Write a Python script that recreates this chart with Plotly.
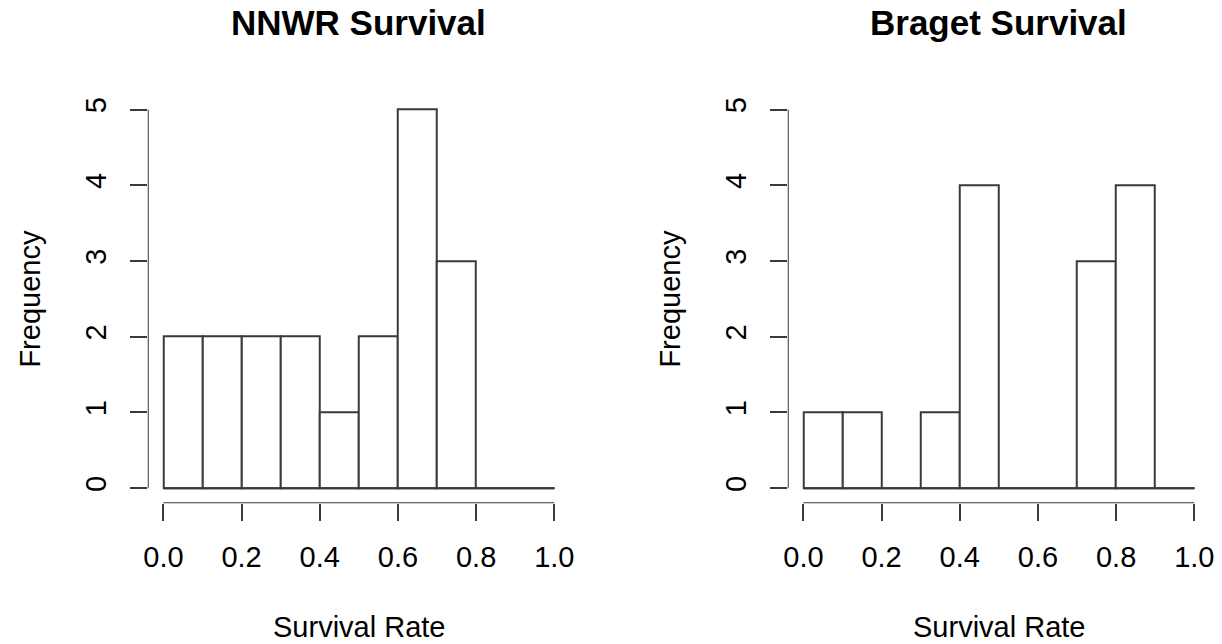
import plotly.graph_objects as go

# ---- data ----
bin_edges = [0.0, 0.1, 0.2, 0.3, 0.4, 0.5, 0.6, 0.7, 0.8, 0.9, 1.0]
nnwr_counts = [2, 2, 2, 2, 1, 2, 5, 3, 0, 0]
braget_counts = [1, 1, 0, 1, 4, 0, 0, 3, 4, 0]
x_tick_vals = [0.0, 0.2, 0.4, 0.6, 0.8, 1.0]
x_tick_text = ["0.0", "0.2", "0.4", "0.6", "0.8", "1.0"]
y_tick_vals = [0, 1, 2, 3, 4, 5]
titles = ["NNWR Survival", "Braget Survival"]
x_label = "Survival Rate"
y_label = "Frequency"

W, H = 1222, 644
FONT = "Liberation Sans, Arial, Helvetica, sans-serif"
LINE = "#3a3a3a"
LW = 2
PAD = 0.04  # R's default axis expansion


def px(x):
    return x / W


def py(y):
    return 1 - y / H


centers = [(bin_edges[i] + bin_edges[i + 1]) / 2 for i in range(len(bin_edges) - 1)]
widths = [bin_edges[i + 1] - bin_edges[i] for i in range(len(bin_edges) - 1)]

xmin, xmax = x_tick_vals[0], x_tick_vals[-1]
ymin, ymax = y_tick_vals[0], y_tick_vals[-1]
xr = [xmin - PAD * (xmax - xmin), xmax + PAD * (xmax - xmin)]
yr = [ymin - PAD * (ymax - ymin), ymax + PAD * (ymax - ymin)]

fig = go.Figure()

# pixel positions of value 0 and 1 (x) and 0 and 5 (y) in the reference
panels = [
    dict(counts=nnwr_counts, x0=163.4, x1=554.3, title=titles[0]),
    dict(counts=braget_counts, x0=803.4, x1=1194.3, title=titles[1]),
]
y_top, y_bot = 109.5, 488.2

for i, p in enumerate(panels):
    xa = "x" if i == 0 else "x2"
    ya = "y" if i == 0 else "y2"
    sx = (p["x1"] - p["x0"]) / (xmax - xmin)
    sy = (y_bot - y_top) / (ymax - ymin)
    dom_x = [px(p["x0"] + (xr[0] - xmin) * sx), px(p["x1"] + (xr[1] - xmax) * sx)]
    dom_y = [py(y_bot - (yr[0] - ymin) * sy), py(y_top - (yr[1] - ymax) * sy)]

    fig.add_trace(go.Bar(
        x=centers, y=p["counts"], width=widths,
        marker=dict(color="white", line=dict(color=LINE, width=LW)),
        xaxis=xa, yaxis=ya, cliponaxis=False, showlegend=False, hoverinfo="skip",
    ))
    # baseline (R draws empty bins as flat rectangles on y = 0)
    fig.add_trace(go.Scatter(
        x=[bin_edges[0], bin_edges[-1]], y=[0, 0], mode="lines",
        line=dict(color=LINE, width=LW), xaxis=xa, yaxis=ya,
        cliponaxis=False, showlegend=False, hoverinfo="skip",
    ))
    # R-style axis lines spanning only the tick range
    fig.add_trace(go.Scatter(
        x=[xmin, xmax], y=[yr[0], yr[0]], mode="lines",
        line=dict(color=LINE, width=LW), xaxis=xa, yaxis=ya,
        cliponaxis=False, showlegend=False, hoverinfo="skip",
    ))
    fig.add_trace(go.Scatter(
        x=[xr[0], xr[0]], y=[ymin, ymax], mode="lines",
        line=dict(color=LINE, width=LW), xaxis=xa, yaxis=ya,
        cliponaxis=False, showlegend=False, hoverinfo="skip",
    ))

    axis_common = dict(
        showline=False, ticks="outside",
        ticklen=17, tickwidth=LW, tickcolor=LINE, showgrid=False, zeroline=False,
        tickfont=dict(family=FONT, size=29, color="black"), fixedrange=True,
        automargin=False,
    )
    xkey = "xaxis" if i == 0 else "xaxis2"
    ykey = "yaxis" if i == 0 else "yaxis2"
    fig.update_layout(**{
        xkey: dict(domain=dom_x, range=xr, anchor=ya,
                   tickmode="array", tickvals=x_tick_vals, ticktext=x_tick_text,
                   ticklabelstandoff=11, **axis_common),
        ykey: dict(domain=dom_y, range=yr, anchor=xa,
                   tickmode="array", tickvals=y_tick_vals, tickangle=-90,
                   ticklabelstandoff=12, **axis_common),
    })
    cx = (p["x0"] + p["x1"]) / 2
    yaxis_px = p["x0"] + (xr[0] - xmin) * sx
    fig.add_annotation(text="<b>%s</b>" % p["title"], x=px(cx), y=py(23),
                       xref="paper", yref="paper", showarrow=False,
                       font=dict(family=FONT, size=35, color="black"),
                       xanchor="center", yanchor="middle")
    fig.add_annotation(text=x_label, x=px(cx), y=py(627),
                       xref="paper", yref="paper", showarrow=False,
                       font=dict(family=FONT, size=29, color="black"),
                       xanchor="center", yanchor="middle")
    fig.add_annotation(text=y_label, x=px(yaxis_px - 118), y=py((y_top + y_bot) / 2),
                       xref="paper", yref="paper", showarrow=False, textangle=-90,
                       font=dict(family=FONT, size=29, color="black"),
                       xanchor="center", yanchor="middle")

fig.update_layout(
    width=W, height=H, autosize=False,
    margin=dict(l=0, r=0, t=0, b=0, pad=0, autoexpand=False),
    paper_bgcolor="white", plot_bgcolor="white",
    bargap=0, showlegend=False,
)

fig.write_html("out.html", config={"displayModeBar": False},
               post_script="document.body.style.margin='0';document.body.style.overflow='hidden';")
